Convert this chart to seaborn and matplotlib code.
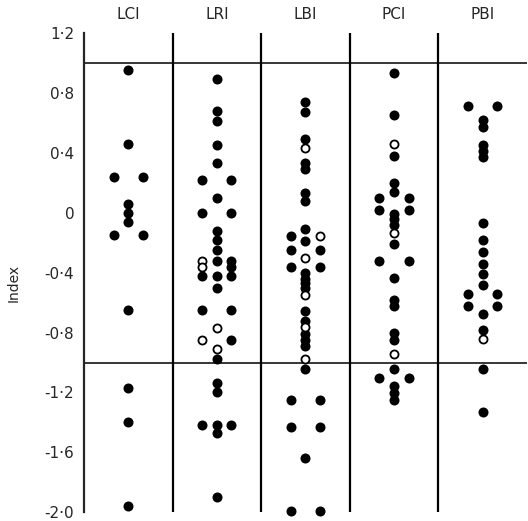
import numpy as np
import pandas as pd
import matplotlib
matplotlib.use("Agg")
from matplotlib import pyplot as plt
import seaborn as sns

groups = ["LCI", "LRI", "LBI", "PCI", "PBI"]

# index values per group, in reading order (top to bottom; ties left to right)
lci = [0.95, 0.46, 0.24, 0.24, 0.06, 0.0, -0.06, -0.15, -0.15, -0.65, -1.17, -1.40, -1.96]
lci_hollow = [0] * 13

lri = [0.89, 0.68, 0.61, 0.45, 0.33, 0.22, 0.22, 0.10, 0.0, 0.0,
       -0.125, -0.185, -0.25, -0.32, -0.32, -0.32, -0.365, -0.365,
       -0.42, -0.42, -0.42, -0.50, -0.65, -0.65, -0.77, -0.85, -0.85,
       -0.91, -0.975, -1.14, -1.20, -1.42, -1.42, -1.42, -1.47, -1.90]
lri_hollow = [0, 0, 0, 0, 0, 0, 0, 0, 0, 0,
              0, 0, 0, 1, 0, 0, 1, 0,
              0, 0, 0, 0, 0, 0, 1, 1, 0,
              1, 0, 0, 0, 0, 0, 0, 0, 0]

lbi = [0.74, 0.675, 0.49, 0.43, 0.33, 0.29, 0.13, 0.075,
       -0.11, -0.155, -0.155, -0.19, -0.25, -0.25, -0.30, -0.36, -0.36,
       -0.40, -0.44, -0.47, -0.50, -0.55, -0.655, -0.72, -0.765, -0.81,
       -0.85, -0.89, -0.975, -1.04, -1.25, -1.25, -1.43, -1.43, -1.64,
       -1.99, -1.99]
lbi_hollow = [0, 0, 0, 1, 0, 0, 0, 0,
              0, 0, 1, 0, 0, 0, 1, 0, 0,
              0, 0, 0, 0, 1, 0, 0, 1, 0,
              0, 0, 1, 0, 0, 0, 0, 0, 0,
              0, 0]

pci = [0.93, 0.655, 0.46, 0.38, 0.20, 0.14, 0.10, 0.10, 0.015, 0.015,
       -0.01, -0.045, -0.08, -0.135, -0.21, -0.32, -0.32, -0.435,
       -0.58, -0.625, -0.80, -0.85, -0.945, -1.04, -1.105, -1.105,
       -1.16, -1.205, -1.25]
pci_hollow = [0, 0, 1, 0, 0, 0, 0, 0, 0, 0,
              0, 0, 0, 1, 0, 0, 0, 0,
              0, 0, 0, 0, 1, 0, 0, 0,
              0, 0, 0]

pbi = [0.71, 0.71, 0.62, 0.57, 0.45, 0.415, 0.37, -0.07, -0.185,
       -0.26, -0.34, -0.41, -0.48, -0.545, -0.545, -0.62, -0.62,
       -0.675, -0.78, -0.845, -1.04, -1.33]
pbi_hollow = [0, 0, 0, 0, 0, 0, 0, 0, 0,
              0, 0, 0, 0, 0, 0, 0, 0,
              0, 0, 1, 0, 0]

limits = [-1.0, 1.0]
yticks = [1.2, 0.8, 0.4, 0.0, -0.4, -0.8, -1.2, -1.6, -2.0]
ytick_labels = ["1·2", "0·8", "0·4", "0", "-0·4", "-0·8", "-1·2", "-1·6", "-2·0"]

# build long table, spreading tied values side by side
rows = []
for gi, (vals, hol) in enumerate(zip([lci, lri, lbi, pci, pbi],
                                     [lci_hollow, lri_hollow, lbi_hollow, pci_hollow, pbi_hollow])):
    vals = np.array(vals)
    seen = {}
    for v, h in zip(vals, hol):
        n = int((vals == v).sum())
        k = seen.get(v, 0)
        seen[v] = k + 1
        if n == 2:
            slot = -1 if k == 0 else 1
        else:
            slot = k - (n - 1) / 2
        rows.append({"group": groups[gi], "x": gi + slot * 0.165, "value": v, "hollow": bool(h)})
df = pd.DataFrame(rows)

sns.set_style("white")
plt.rcParams["font.family"] = ["DejaVu Sans"]

fig = plt.figure(figsize=(5.28, 5.21), dpi=100)
ax = fig.add_axes([0.159, 0.0167, 0.839, 0.92])

for b in np.arange(len(groups) - 1) + 0.5:
    ax.axvline(b, color="black", lw=1.6)
for l in limits:
    ax.axhline(l, color="black", lw=1.1)

sns.scatterplot(data=df[~df.hollow], x="x", y="value", color="black", s=52,
                linewidth=0, clip_on=False, legend=False, ax=ax, zorder=3)
sns.scatterplot(data=df[df.hollow], x="x", y="value", color="white", edgecolor="black",
                s=34, linewidth=1.3, clip_on=False, legend=False, ax=ax, zorder=4)

ax.set_xlim(-0.5, len(groups) - 0.5)
ax.set_ylim(-2.0, 1.2)
ax.set_yticks(yticks)
ax.set_yticklabels(ytick_labels, fontsize=11)
ax.xaxis.tick_top()
ax.set_xticks(range(len(groups)))
ax.set_xticklabels(groups, fontsize=11)
ax.tick_params(axis="x", length=0, pad=8)
ax.tick_params(axis="y", direction="out", length=5, width=1.3, pad=2)
ax.set_xlabel("")
ax.set_ylabel("Index", fontsize=10)
ax.yaxis.set_label_coords(-0.142, 0.478)
sns.despine(ax=ax, top=True, right=True, bottom=True)
ax.spines["left"].set_linewidth(1.6)

fig.savefig("out.png", dpi=100)
